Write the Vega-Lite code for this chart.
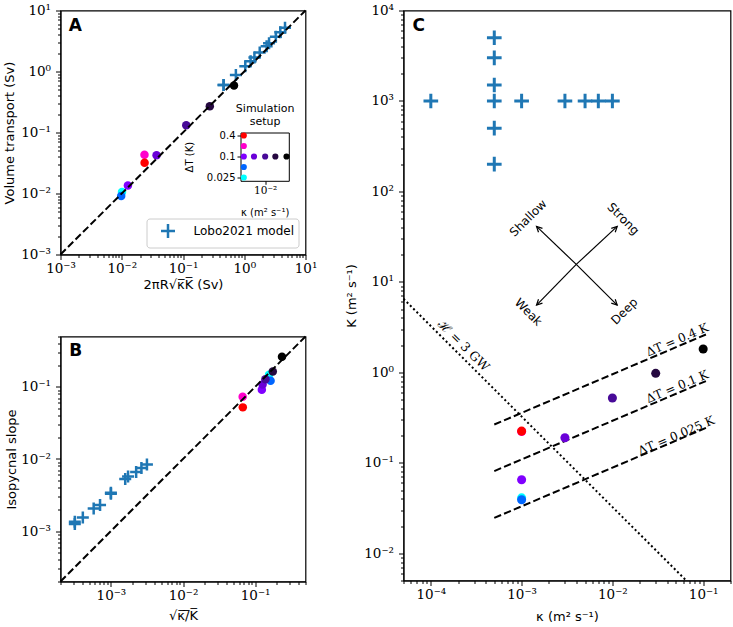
{
"$schema": "https://vega.github.io/schema/vega-lite/v6.json",
"background": "white",
"padding": {"left": 2.5, "top": 2.5, "right": 0, "bottom": 0},
"autosize": {"type": "pad"},
"bounds": "flush",
"spacing": 343,
"resolve": {"scale": {"color": "independent"}},
"datasets": {
"sims": [
{"id":"m","kappa":0.001,"dT":0.2,"K":0.222,"Ax":0.0235,"Ay":0.043,"Bx":0.0672,"By":0.073,"col":"#ff00cc"},
{"id":"r","kappa":0.001,"dT":0.4,"K":0.224,"Ax":0.0236,"Ay":0.032,"Bx":0.0675,"By":0.052,"col":"#ff0000"},
{"id":"c","kappa":0.001,"dT":0.025,"K":0.041,"Ax":0.0101,"Ay":0.0106,"Bx":0.156,"By":0.147,"col":"#00ffff"},
{"id":"b","kappa":0.001,"dT":0.05,"K":0.039,"Ax":0.0098,"Ay":0.0091,"Bx":0.164,"By":0.122,"col":"#0066ff"},
{"id":"v","kappa":0.001,"dT":0.1,"K":0.065,"Ax":0.0126,"Ay":0.0135,"Bx":0.124,"By":0.091,"col":"#8000ff"},
{"id":"k3","kappa":0.003,"dT":0.1,"K":0.189,"Ax":0.037,"Ay":0.0425,"Bx":0.127,"By":0.108,"col":"#6a00d8"},
{"id":"k10","kappa":0.01,"dT":0.1,"K":0.52,"Ax":0.113,"Ay":0.131,"Bx":0.139,"By":0.128,"col":"#480a98"},
{"id":"k30","kappa":0.03,"dT":0.1,"K":0.975,"Ax":0.274,"Ay":0.27,"Bx":0.176,"By":0.164,"col":"#250840"},
{"id":"k100","kappa":0.1,"dT":0.1,"K":1.81,"Ax":0.68,"Ay":0.59,"Bx":0.236,"By":0.262,"col":"#000000"}
],
"lobo": [
{"kappa":0.0001,"K":1000,"Ax":0.46,"Ay":0.6,"Bx":0.000316,"By":0.00125},
{"kappa":0.0005,"K":200,"Ax":0.46,"Ay":0.6,"Bx":0.00158,"By":0.0053},
{"kappa":0.0005,"K":500,"Ax":0.73,"Ay":0.88,"Bx":0.001,"By":0.0033},
{"kappa":0.0005,"K":1000,"Ax":1.04,"Ay":1.22,"Bx":0.000707,"By":0.0023},
{"kappa":0.0005,"K":1500,"Ax":1.27,"Ay":1.47,"Bx":0.000577,"By":0.00205},
{"kappa":0.0005,"K":3000,"Ax":1.79,"Ay":2.05,"Bx":0.000408,"By":0.00155},
{"kappa":0.0005,"K":5000,"Ax":2.32,"Ay":2.6,"Bx":0.000316,"By":0.00135},
{"kappa":0.001,"K":1000,"Ax":1.465,"Ay":1.7,"Bx":0.001,"By":0.0034},
{"kappa":0.003,"K":1000,"Ax":2.54,"Ay":2.9,"Bx":0.00173,"By":0.0057},
{"kappa":0.005,"K":1000,"Ax":3.28,"Ay":3.7,"Bx":0.00224,"By":0.0066},
{"kappa":0.007,"K":1000,"Ax":3.88,"Ay":4.4,"Bx":0.00265,"By":0.0075},
{"kappa":0.01,"K":1000,"Ax":4.63,"Ay":5.2,"Bx":0.00316,"By":0.0084}
],
"dtlines": [
{"dt":"0.4","kappa":0.0005,"K":0.265},{"dt":"0.4","kappa":0.11,"K":2.65},
{"dt":"0.1","kappa":0.0005,"K":0.081},{"dt":"0.1","kappa":0.11,"K":0.81},
{"dt":"0.025","kappa":0.0005,"K":0.0246},{"dt":"0.025","kappa":0.11,"K":0.246}
],
"dtlabels": [
{"label":"ΔT = 0.4 K","kappa":0.0518,"K":2.29},
{"label":"ΔT = 0.1 K","kappa":0.0518,"K":0.695},
{"label":"ΔT = 0.025 K","kappa":0.0506,"K":0.2}
],
"hline": [{"kappa":0.00005,"K":6.5},{"kappa":0.064,"K":0.00508}],
"arrows": [
{"dir":"Shallow","ck":0.004,"cK":15.6,"kappa":0.00146,"K":41.1,"lk":0.00118,"lK":50.8},
{"dir":"Strong","ck":0.004,"cK":15.6,"kappa":0.0113,"K":41.1,"lk":0.0132,"lK":49.8},
{"dir":"Weak","ck":0.004,"cK":15.6,"kappa":0.00146,"K":5.53,"lk":0.00119,"lK":4.64},
{"dir":"Deep","ck":0.004,"cK":15.6,"kappa":0.0113,"K":5.53,"lk":0.01355,"lK":4.73}
]
},
"hconcat": [
{
"vconcat": [
{
"width": 245, "height": 244,
"layer": [
{
"layer": [
{
"data": {"name": "lobo"},
"mark": {"type": "point", "shape": "M-1,0L1,0M0,-1L0,1", "filled": false, "strokeWidth": 2.5, "size": 144, "opacity": 1},
"encoding": {
"x": {"field": "Ax", "type": "quantitative", "scale": {"type": "log", "domain": [0.001, 10]}, "axis": {"orient": "bottom", "values": [0.002,0.003,0.004,0.005,0.006,0.007,0.008,0.009,0.02,0.03,0.04,0.05,0.06,0.07,0.08,0.09,0.2,0.3,0.4,0.5,0.6,0.7,0.8,0.9,2,3,4,5,6,7,8,9], "tickSize": 3, "labels": false, "domain": false, "title": null}},
"y": {"field": "Ay", "type": "quantitative", "scale": {"type": "log", "domain": [0.001, 10]}, "axis": {"orient": "left", "values": [0.002,0.003,0.004,0.005,0.006,0.007,0.008,0.009,0.02,0.03,0.04,0.05,0.06,0.07,0.08,0.09,0.2,0.3,0.4,0.5,0.6,0.7,0.8,0.9,2,3,4,5,6,7,8,9], "tickSize": 3, "labels": false, "domain": false, "title": null}},
"color": {"datum": "Lobo2021 model", "type": "nominal", "title": null, "scale": {"range": ["#1f77b4"]}, "legend": {"orient": "bottom-right", "offset": 7, "title": null, "padding": 4, "strokeColor": "#cccccc", "cornerRadius": 3, "fillColor": "white", "symbolType": "M-1,0L1,0M0,-1L0,1", "symbolSize": 196, "symbolStrokeWidth": 2.5, "symbolOffset": 9, "labelOffset": 17, "labelFontSize": 12, "labelFont": "DejaVu Sans"}}
}
},
{
"data": {"name": "sims"},
"mark": {"type": "circle", "size": 72, "opacity": 1},
"encoding": {
"x": {"field": "Ax", "type": "quantitative", "scale": {"type": "log", "domain": [0.001, 10]}, "axis": null},
"y": {"field": "Ay", "type": "quantitative", "scale": {"type": "log", "domain": [0.001, 10]}, "axis": null},
"color": {"field": "col", "type": "nominal", "scale": null, "legend": null, "title": null}
}
},
{
"data": {"values": [{"v": 0.001}, {"v": 10}]},
"mark": {"type": "line", "color": "black", "strokeDash": [7.4, 3.2], "strokeWidth": 2},
"encoding": {
"x": {"field": "v", "type": "quantitative", "scale": {"type": "log", "domain": [0.001, 10]}, "axis": {"orient": "bottom", "values": [0.001,0.01,0.1,1,10], "tickSize": 5, "labelPadding": 2, "labelExpr": "'10' + (round(log(datum.value)/LN10) < 0 ? '⁻' : '') + ['⁰','¹','²','³','⁴'][abs(round(log(datum.value)/LN10))]", "title": "2πR√κ̅K̅ (Sv)", "titleY": 30, "titleBaseline": "middle"}},
"y": {"field": "v", "type": "quantitative", "scale": {"type": "log", "domain": [0.001, 10]}, "axis": {"orient": "left", "values": [0.001,0.01,0.1,1,10], "tickSize": 5, "labelPadding": 5, "labelExpr": "'10' + (round(log(datum.value)/LN10) < 0 ? '⁻' : '') + ['⁰','¹','²','³','⁴'][abs(round(log(datum.value)/LN10))]", "title": "Volume transport (Sv)", "titleX": -51, "titleBaseline": "middle"}}
}
},
{
"data": {"values": [{}]},
"mark": {"type": "text", "text": "A", "fontSize": 17, "fontWeight": "bold", "align": "left", "baseline": "middle"},
"encoding": {
"x": {"datum": 0.00137, "type": "quantitative", "scale": {"type": "log", "domain": [0.001, 10]}, "axis": null},
"y": {"datum": 5.64, "type": "quantitative", "scale": {"type": "log", "domain": [0.001, 10]}, "axis": null}
}
}
],
"resolve": {"axis": {"x": "independent", "y": "independent"}}
},
{
"layer": [
{
"data": {"name": "sims"},
"mark": {"type": "circle", "size": 38, "opacity": 1},
"encoding": {
"x": {"field": "kappa", "type": "quantitative", "scale": {"type": "log", "domain": [0.0007, 0.128], "range": [180, 228.3]}, "axis": {"orient": "bottom", "offset": -73.7, "values": [0.01], "labelExpr": "'10⁻²'", "tickSize": 3.5, "labelPadding": 1, "labelFontSize": 10.5, "domain": true, "title": "κ (m² s⁻¹)", "titleFontSize": 10, "titleY": 31.5, "titleBaseline": "middle"}},
"y": {"field": "dT", "type": "quantitative", "scale": {"type": "log", "domain": [0.0201, 0.4874], "range": [170.3, 122]}, "axis": {"orient": "left", "offset": -180, "values": [0.025, 0.1, 0.4], "format": "~g", "tickSize": 3.5, "labelPadding": 2, "labelFont": "DejaVu Sans", "labelFontSize": 10, "domain": true, "title": "ΔT (K)", "titleFontSize": 10, "titleX": -51, "titleBaseline": "middle"}},
"color": {"field": "col", "type": "nominal", "scale": null, "legend": null, "title": null}
}
},
{
"data": {"name": "sims"},
"mark": {"type": "point", "opacity": 0},
"encoding": {
"x": {"field": "kappa", "type": "quantitative", "scale": {"type": "log", "domain": [0.0007, 0.128], "range": [180, 228.3]}, "axis": {"orient": "top", "offset": -122, "ticks": false, "labels": false, "domain": true, "title": ["Simulation", "setup"], "titleFontSize": 11, "titleLineHeight": 13, "titlePadding": 6}},
"y": {"field": "dT", "type": "quantitative", "scale": {"type": "log", "domain": [0.0201, 0.4874], "range": [170.3, 122]}, "axis": {"orient": "right", "offset": -16.7, "ticks": false, "labels": false, "domain": true, "title": null}}
}
}
],
"resolve": {"axis": {"x": "independent", "y": "independent"}}
}
],
"resolve": {"scale": {"x": "independent", "y": "independent"}, "axis": {"x": "independent", "y": "independent"}}
},
{
"width": 245, "height": 245,
"layer": [
{
"data": {"name": "lobo"},
"mark": {"type": "point", "shape": "M-1,0L1,0M0,-1L0,1", "filled": false, "strokeWidth": 2.5, "size": 144, "opacity": 1, "color": "#1f77b4"},
"encoding": {
"x": {"field": "Bx", "type": "quantitative", "scale": {"type": "log", "domain": [0.0002, 0.5]}, "axis": {"orient": "bottom", "values": [0.0002,0.0003,0.0004,0.0005,0.0006,0.0007,0.0008,0.0009,0.002,0.003,0.004,0.005,0.006,0.007,0.008,0.009,0.02,0.03,0.04,0.05,0.06,0.07,0.08,0.09,0.2,0.3,0.4,0.5], "tickSize": 3, "labels": false, "domain": false, "title": null}},
"y": {"field": "By", "type": "quantitative", "scale": {"type": "log", "domain": [0.0002, 0.5]}, "axis": {"orient": "left", "values": [0.0002,0.0003,0.0004,0.0005,0.0006,0.0007,0.0008,0.0009,0.002,0.003,0.004,0.005,0.006,0.007,0.008,0.009,0.02,0.03,0.04,0.05,0.06,0.07,0.08,0.09,0.2,0.3,0.4,0.5], "tickSize": 3, "labels": false, "domain": false, "title": null}}
}
},
{
"data": {"name": "sims"},
"mark": {"type": "circle", "size": 72, "opacity": 1},
"encoding": {
"x": {"field": "Bx", "type": "quantitative", "scale": {"type": "log", "domain": [0.0002, 0.5]}, "axis": null},
"y": {"field": "By", "type": "quantitative", "scale": {"type": "log", "domain": [0.0002, 0.5]}, "axis": null},
"color": {"field": "col", "type": "nominal", "scale": null, "legend": null}
}
},
{
"data": {"values": [{"v": 0.0002}, {"v": 0.5}]},
"mark": {"type": "line", "color": "black", "strokeDash": [7.4, 3.2], "strokeWidth": 2},
"encoding": {
"x": {"field": "v", "type": "quantitative", "scale": {"type": "log", "domain": [0.0002, 0.5]}, "axis": {"orient": "bottom", "values": [0.001,0.01,0.1], "tickSize": 5, "labelPadding": 2, "labelExpr": "'10' + (round(log(datum.value)/LN10) < 0 ? '⁻' : '') + ['⁰','¹','²','³','⁴'][abs(round(log(datum.value)/LN10))]", "title": "√κ̅/̅K̅", "titleY": 34, "titleBaseline": "middle"}},
"y": {"field": "v", "type": "quantitative", "scale": {"type": "log", "domain": [0.0002, 0.5]}, "axis": {"orient": "left", "values": [0.001,0.01,0.1], "tickSize": 5, "labelPadding": 5, "labelExpr": "'10' + (round(log(datum.value)/LN10) < 0 ? '⁻' : '') + ['⁰','¹','²','³','⁴'][abs(round(log(datum.value)/LN10))]", "title": "Isopycnal slope", "titleX": -49, "titleBaseline": "middle"}}
}
},
{
"data": {"values": [{}]},
"mark": {"type": "text", "text": "B", "fontSize": 17, "fontWeight": "bold", "align": "left", "baseline": "middle"},
"encoding": {
"x": {"datum": 0.000264, "type": "quantitative", "scale": {"type": "log", "domain": [0.0002, 0.5]}, "axis": null},
"y": {"datum": 0.313, "type": "quantitative", "scale": {"type": "log", "domain": [0.0002, 0.5]}, "axis": null}
}
}
],
"resolve": {"axis": {"x": "independent", "y": "independent"}}
}
],
"bounds": "flush",
"spacing": 82,
"resolve": {"scale": {"color": "independent"}}
},
{
"width": 327, "height": 570,
"layer": [
{
"data": {"name": "lobo"},
"mark": {"type": "point", "shape": "M-1,0L1,0M0,-1L0,1", "filled": false, "strokeWidth": 3, "size": 215, "opacity": 1, "color": "#1f77b4"},
"encoding": {
"x": {"field": "kappa", "type": "quantitative", "scale": {"type": "log", "domain": [0.00005, 0.2]}, "axis": {"orient": "bottom", "values": [0.00005,0.00006,0.00007,0.00008,0.00009,0.0002,0.0003,0.0004,0.0005,0.0006,0.0007,0.0008,0.0009,0.002,0.003,0.004,0.005,0.006,0.007,0.008,0.009,0.02,0.03,0.04,0.05,0.06,0.07,0.08,0.09,0.2], "tickSize": 3, "labels": false, "domain": false, "title": null}},
"y": {"field": "K", "type": "quantitative", "scale": {"type": "log", "domain": [0.005, 10000]}, "axis": {"orient": "left", "values": [0.005,0.006,0.007,0.008,0.009,0.02,0.03,0.04,0.05,0.06,0.07,0.08,0.09,0.2,0.3,0.4,0.5,0.6,0.7,0.8,0.9,2,3,4,5,6,7,8,9,20,30,40,50,60,70,80,90,200,300,400,500,600,700,800,900,2000,3000,4000,5000,6000,7000,8000,9000], "tickSize": 3, "labels": false, "domain": false, "title": null}}
}
},
{
"data": {"name": "dtlines"},
"mark": {"type": "line", "color": "black", "strokeDash": [7.4, 3.2], "strokeWidth": 2},
"encoding": {
"x": {"field": "kappa", "type": "quantitative", "scale": {"type": "log", "domain": [0.00005, 0.2]}, "axis": {"orient": "bottom", "values": [0.0001,0.001,0.01,0.1], "tickSize": 5, "labelPadding": 2, "labelExpr": "'10' + (round(log(datum.value)/LN10) < 0 ? '⁻' : '') + ['⁰','¹','²','³','⁴'][abs(round(log(datum.value)/LN10))]", "title": "κ (m² s⁻¹)", "titleY": 36, "titleBaseline": "middle"}},
"y": {"field": "K", "type": "quantitative", "scale": {"type": "log", "domain": [0.005, 10000]}, "axis": {"orient": "left", "values": [0.01,0.1,1,10,100,1000,10000], "tickSize": 5, "labelPadding": 5, "labelExpr": "'10' + (round(log(datum.value)/LN10) < 0 ? '⁻' : '') + ['⁰','¹','²','³','⁴'][abs(round(log(datum.value)/LN10))]", "title": "K (m² s⁻¹)", "titleX": -52, "titleBaseline": "middle"}},
"detail": {"field": "dt", "type": "nominal"}
}
},
{
"data": {"name": "hline"},
"mark": {"type": "line", "color": "black", "strokeDash": [2, 2.6], "strokeWidth": 2},
"encoding": {
"x": {"field": "kappa", "type": "quantitative", "scale": {"type": "log", "domain": [0.00005, 0.2]}, "axis": null},
"y": {"field": "K", "type": "quantitative", "scale": {"type": "log", "domain": [0.005, 10000]}, "axis": null}
}
},
{
"data": {"name": "sims"},
"mark": {"type": "circle", "size": 82, "opacity": 1},
"encoding": {
"x": {"field": "kappa", "type": "quantitative", "scale": {"type": "log", "domain": [0.00005, 0.2]}, "axis": null},
"y": {"field": "K", "type": "quantitative", "scale": {"type": "log", "domain": [0.005, 10000]}, "axis": null},
"color": {"field": "col", "type": "nominal", "scale": null, "legend": null}
}
},
{
"data": {"name": "arrows"},
"mark": {"type": "rule", "color": "black", "strokeWidth": 1.2},
"encoding": {
"x": {"field": "ck", "type": "quantitative", "scale": {"type": "log", "domain": [0.00005, 0.2]}, "axis": null},
"y": {"field": "cK", "type": "quantitative", "scale": {"type": "log", "domain": [0.005, 10000]}, "axis": null},
"x2": {"field": "kappa"},
"y2": {"field": "K"}
}
},
{
"data": {"name": "arrows"},
"transform": [{"filter": "datum.dir == 'Shallow'"}],
"mark": {"type": "point", "shape": "M-0.5,1L0,0L0.5,1", "angle": 315, "filled": false, "strokeWidth": 1.2, "size": 125, "opacity": 1, "color": "black"},
"encoding": {
"x": {"field": "kappa", "type": "quantitative", "scale": {"type": "log", "domain": [0.00005, 0.2]}, "axis": null},
"y": {"field": "K", "type": "quantitative", "scale": {"type": "log", "domain": [0.005, 10000]}, "axis": null}
}
},
{
"data": {"name": "arrows"},
"transform": [{"filter": "datum.dir == 'Strong'"}],
"mark": {"type": "point", "shape": "M-0.5,1L0,0L0.5,1", "angle": 45, "filled": false, "strokeWidth": 1.2, "size": 125, "opacity": 1, "color": "black"},
"encoding": {
"x": {"field": "kappa", "type": "quantitative", "scale": {"type": "log", "domain": [0.00005, 0.2]}, "axis": null},
"y": {"field": "K", "type": "quantitative", "scale": {"type": "log", "domain": [0.005, 10000]}, "axis": null}
}
},
{
"data": {"name": "arrows"},
"transform": [{"filter": "datum.dir == 'Deep'"}],
"mark": {"type": "point", "shape": "M-0.5,1L0,0L0.5,1", "angle": 135, "filled": false, "strokeWidth": 1.2, "size": 125, "opacity": 1, "color": "black"},
"encoding": {
"x": {"field": "kappa", "type": "quantitative", "scale": {"type": "log", "domain": [0.00005, 0.2]}, "axis": null},
"y": {"field": "K", "type": "quantitative", "scale": {"type": "log", "domain": [0.005, 10000]}, "axis": null}
}
},
{
"data": {"name": "arrows"},
"transform": [{"filter": "datum.dir == 'Weak'"}],
"mark": {"type": "point", "shape": "M-0.5,1L0,0L0.5,1", "angle": 225, "filled": false, "strokeWidth": 1.2, "size": 125, "opacity": 1, "color": "black"},
"encoding": {
"x": {"field": "kappa", "type": "quantitative", "scale": {"type": "log", "domain": [0.00005, 0.2]}, "axis": null},
"y": {"field": "K", "type": "quantitative", "scale": {"type": "log", "domain": [0.005, 10000]}, "axis": null}
}
},
{
"data": {"name": "arrows"},
"transform": [{"filter": "datum.dir == 'Shallow' || datum.dir == 'Deep'"}],
"mark": {"type": "text", "angle": -45, "fontSize": 12, "align": "center", "baseline": "middle"},
"encoding": {
"x": {"field": "lk", "type": "quantitative", "scale": {"type": "log", "domain": [0.00005, 0.2]}, "axis": null},
"y": {"field": "lK", "type": "quantitative", "scale": {"type": "log", "domain": [0.005, 10000]}, "axis": null},
"text": {"field": "dir"}
}
},
{
"data": {"name": "arrows"},
"transform": [{"filter": "datum.dir == 'Strong' || datum.dir == 'Weak'"}],
"mark": {"type": "text", "angle": 45, "fontSize": 12, "align": "center", "baseline": "middle"},
"encoding": {
"x": {"field": "lk", "type": "quantitative", "scale": {"type": "log", "domain": [0.00005, 0.2]}, "axis": null},
"y": {"field": "lK", "type": "quantitative", "scale": {"type": "log", "domain": [0.005, 10000]}, "axis": null},
"text": {"field": "dir"}
}
},
{
"data": {"name": "dtlabels"},
"mark": {"type": "text", "angle": -23, "fontSize": 12, "font": "DejaVu Serif", "align": "center", "baseline": "middle"},
"encoding": {
"x": {"field": "kappa", "type": "quantitative", "scale": {"type": "log", "domain": [0.00005, 0.2]}, "axis": null},
"y": {"field": "K", "type": "quantitative", "scale": {"type": "log", "domain": [0.005, 10000]}, "axis": null},
"text": {"field": "label"}
}
},
{
"data": {"values": [{"label": "ℋ = 3 GW", "kappa": 0.00023, "K": 1.97}]},
"mark": {"type": "text", "angle": 45, "fontSize": 12.5, "font": "DejaVu Serif", "align": "center", "baseline": "middle"},
"encoding": {
"x": {"field": "kappa", "type": "quantitative", "scale": {"type": "log", "domain": [0.00005, 0.2]}, "axis": null},
"y": {"field": "K", "type": "quantitative", "scale": {"type": "log", "domain": [0.005, 10000]}, "axis": null},
"text": {"field": "label"}
}
},
{
"data": {"values": [{}]},
"mark": {"type": "text", "text": "C", "fontSize": 17, "fontWeight": "bold", "align": "left", "baseline": "middle"},
"encoding": {
"x": {"datum": 0.000063, "type": "quantitative", "scale": {"type": "log", "domain": [0.00005, 0.2]}, "axis": null},
"y": {"datum": 6730, "type": "quantitative", "scale": {"type": "log", "domain": [0.005, 10000]}, "axis": null}
}
}
],
"resolve": {"axis": {"x": "independent", "y": "independent"}}
}
],
"config": {
"view": {"stroke": "black", "strokeWidth": 1.2},
"axis": {"grid": false, "domainColor": "black", "domainWidth": 1, "tickColor": "black", "tickWidth": 1, "labelColor": "black", "titleColor": "black", "labelFont": "DejaVu Serif", "labelFontSize": 13.5, "titleFont": "DejaVu Sans", "titleFontSize": 13, "titleFontWeight": "normal", "labelFlush": false, "labelOverlap": false},
"legend": {"labelFont": "DejaVu Sans", "labelFontSize": 12, "labelColor": "black"},
"text": {"font": "DejaVu Sans", "color": "black"}
}
}
